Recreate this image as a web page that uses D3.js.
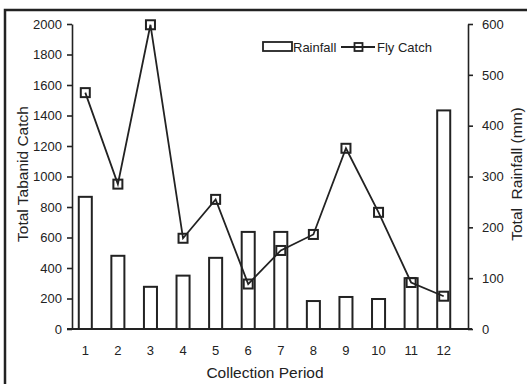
<!DOCTYPE html>
<html lang="en">
<head>
    <meta charset="UTF-8">
    <title>Tabanid Catch and Rainfall</title>
    <script src="https://d3js.org/d3.v7.min.js"></script>
    <style>
        body {
            margin: 0;
            background-color: #fff;
        }
        svg {
            display: block;
            font-family: Arial, 'Liberation Sans', Helvetica, sans-serif;
        }
        .axis text {
            font-size: 13px;
            fill: #222;
        }
        .axis path, .axis line {
            stroke: #222;
            stroke-width: 1.6px;
        }
        .title {
            font-size: 15.5px;
            fill: #222;
        }
    </style>
</head>
<body>

    <svg width="527" height="384" class="chart"></svg>

    <script>
        // Chart data
        const periods = ["1", "2", "3", "4", "5", "6", "7", "8", "9", "10", "11", "12"];
        const rainfall = [260, 144, 83, 105, 140, 191, 191, 55, 63, 59, 100, 430];
        const flyCatch = [1550, 950, 1995, 595, 850, 295, 515, 620, 1185, 765, 305, 215];
        const catchTicks = [0, 200, 400, 600, 800, 1000, 1200, 1400, 1600, 1800, 2000];
        const rainTicks = [0, 100, 200, 300, 400, 500, 600];

        const svg = d3.select(".chart");
        const plotLeft = 72, plotRight = 468, plotTop = 24, plotBottom = 329;

        // outer frame (only top and left edges fall inside the picture)
        svg.append("rect")
            .attr("x", 5).attr("y", 10)
            .attr("width", 560).attr("height", 400)
            .attr("fill", "none")
            .attr("stroke", "#222")
            .attr("stroke-width", 2.5);

        // Scales
        const x = d3.scaleBand()
            .domain(periods)
            .range([69, 460])
            .paddingInner(0.6)
            .paddingOuter(0.3);

        const yCatch = d3.scaleLinear().domain([0, 2000]).range([plotBottom, plotTop]);
        const yRain = d3.scaleLinear().domain([0, 600]).range([plotBottom, plotTop]);

        // Bars (rainfall, right axis)
        svg.selectAll(".bar")
            .data(rainfall)
            .enter()
            .append("rect")
            .attr("class", "bar")
            .attr("x", (d, i) => x(periods[i]))
            .attr("y", d => yRain(d))
            .attr("width", x.bandwidth())
            .attr("height", d => yRain(0) - yRain(d))
            .attr("fill", "#fff")
            .attr("stroke", "#222")
            .attr("stroke-width", 2);

        // Line (fly catch, left axis)
        const cx = (d, i) => x(periods[i]) + x.bandwidth() / 2;
        const line = d3.line()
            .x(cx)
            .y(d => yCatch(d));

        svg.append("path")
            .datum(flyCatch)
            .attr("d", line)
            .attr("fill", "none")
            .attr("stroke", "#222")
            .attr("stroke-width", 1.8);

        svg.selectAll(".marker")
            .data(flyCatch)
            .enter()
            .append("rect")
            .attr("class", "marker")
            .attr("x", (d, i) => cx(d, i) - 4.5)
            .attr("y", d => yCatch(d) - 4.5)
            .attr("width", 9)
            .attr("height", 9)
            .attr("fill", "none")
            .attr("stroke", "#222")
            .attr("stroke-width", 2);

        // Axes
        svg.append("g")
            .attr("class", "axis")
            .attr("transform", `translate(${plotLeft}, 0)`)
            .call(d3.axisLeft(yCatch).tickValues(catchTicks).tickFormat(d3.format("d"))
                .tickSize(5).tickSizeOuter(0).tickPadding(5));

        svg.append("g")
            .attr("class", "axis")
            .attr("transform", `translate(${plotRight}, 0)`)
            .call(d3.axisRight(yRain).tickValues(rainTicks).tickFormat(d3.format("d"))
                .tickSize(5).tickSizeOuter(0).tickPadding(9));

        const xAxis = svg.append("g")
            .attr("class", "axis")
            .attr("transform", `translate(0, ${plotBottom})`)
            .call(d3.axisBottom(x).tickSize(0).tickPadding(17));
        xAxis.select(".domain").remove();

        // baseline across both y axes
        svg.append("line")
            .attr("x1", plotLeft - 5).attr("x2", plotRight + 4)
            .attr("y1", yCatch(0)).attr("y2", yCatch(0))
            .attr("stroke", "#222")
            .attr("stroke-width", 1.8);

        // Axis titles
        svg.append("text")
            .attr("class", "title")
            .attr("text-anchor", "middle")
            .attr("transform", "translate(28, 174) rotate(-90)")
            .text("Total Tabanid Catch");

        svg.append("text")
            .attr("class", "title")
            .attr("text-anchor", "middle")
            .style("white-space", "pre")
            .attr("transform", "translate(522, 174) rotate(-90)")
            .text("Total  Rainfall (mm)");

        svg.append("text")
            .attr("class", "title")
            .attr("text-anchor", "middle")
            .attr("x", 265)
            .attr("y", 378)
            .text("Collection Period");

        // Legend
        const legend = svg.append("g").attr("class", "legend");
        legend.append("rect")
            .attr("x", 263).attr("y", 42)
            .attr("width", 29).attr("height", 9)
            .attr("fill", "#fff")
            .attr("stroke", "#222")
            .attr("stroke-width", 1.8);
        legend.append("text")
            .attr("x", 293).attr("y", 52)
            .style("font-size", "13px")
            .attr("fill", "#222")
            .text("Rainfall");
        legend.append("line")
            .attr("x1", 341).attr("x2", 375)
            .attr("y1", 47).attr("y2", 47)
            .attr("stroke", "#222")
            .attr("stroke-width", 1.8);
        legend.append("rect")
            .attr("x", 354.5).attr("y", 43)
            .attr("width", 8).attr("height", 8)
            .attr("fill", "none")
            .attr("stroke", "#222")
            .attr("stroke-width", 1.8);
        legend.append("text")
            .attr("x", 377).attr("y", 52)
            .style("font-size", "13px")
            .attr("fill", "#222")
            .text("Fly Catch");
    </script>
</body>
</html>
